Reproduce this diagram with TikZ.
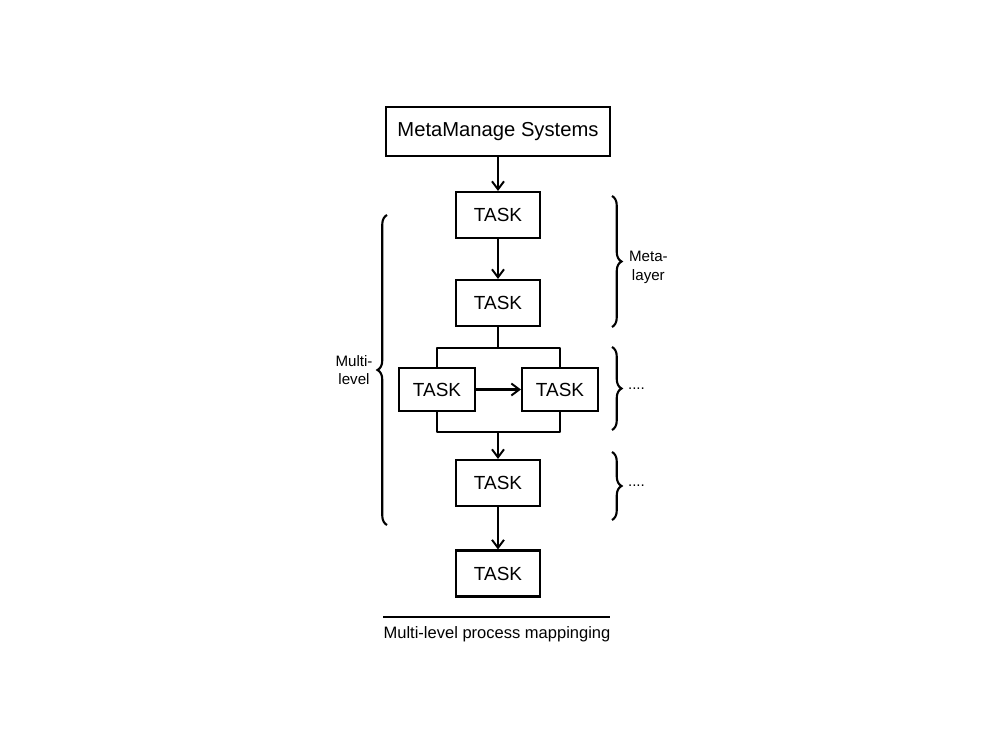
\documentclass[tikz,border=0pt]{standalone}
\usepackage{fontspec}
\setmainfont{Liberation Sans}
\usetikzlibrary{arrows.meta,decorations.pathreplacing}

\begin{document}
\begin{tikzpicture}[x=1cm,y=1cm]
\tikzset{
  taskbox/.style={rectangle,draw=black,line width=1.2pt,minimum width=1.68cm,minimum height=0.92cm,inner sep=0pt,font=\fontsize{10.8}{12}\selectfont},
  sidebox/.style={taskbox,minimum width=1.52cm,minimum height=0.86cm},
  flowline/.style={draw=black,line width=1.2pt,line join=round},
  flowarrow/.style={flowline,-{Straight Barb[length=1.6mm,width=2.4mm,line width=1.1pt]}},
  bracket/.style={draw=black,line width=1.2pt,decorate,decoration={brace,amplitude=0.19cm}},
  sidelabel/.style={inner sep=0pt,align=center,font=\fontsize{8.6}{10.5}\selectfont}
}
\fill[white] (0,0) rectangle (20,14.98);
\useasboundingbox (0,0) rectangle (20,14.98);
% boxes
\node[taskbox,minimum width=4.48cm,minimum height=0.98cm,font=\fontsize{11.5}{13}\selectfont] (sys) at (9.96,12.35) {MetaManage Systems};
\node[taskbox] (t_1) at (9.96,10.68) {TASK};
\node[taskbox] (t_2) at (9.96,8.92) {TASK};
\node[sidebox] (t_3a) at (8.74,7.19) {TASK};
\node[sidebox] (t_3b) at (11.2,7.19) {TASK};
\node[taskbox] (t_4) at (9.96,5.32) {TASK};
\node[taskbox] (t_5) at (9.96,3.51) {TASK};
\coordinate (fork) at (9.96,8.02);
\coordinate (join) at (9.96,6.34);
% connectors
\draw[flowarrow] (sys) -- (t_1);
\draw[flowarrow] (t_1) -- (t_2);
\draw[flowline] (t_2) -- (fork);
\draw[flowline] (t_3a.north) |- (fork) -| (t_3b.north);
\draw[flowarrow] (t_3a) -- (t_3b);
\draw[flowline] (t_3a.south) |- (join) -| (t_3b.south);
\draw[flowarrow] (join) -- (t_4);
\draw[flowarrow] (t_4) -- (t_5);
% braces
\coordinate (lb_lo) at (7.74,4.48);
\coordinate (lb_hi) at (7.74,10.68);
\draw[bracket] (lb_lo) -- (lb_hi) node[midway,left=0.27cm,sidelabel] (multi) {Multi-\\level};
\coordinate (rb1_hi) at (12.24,11.06);
\coordinate (rb1_lo) at (12.24,8.44);
\draw[bracket] (rb1_hi) -- (rb1_lo) node[midway,right=0.32cm,sidelabel,yshift=-0.12cm] (meta) {Meta-\\layer};
\coordinate (rb2_hi) at (12.24,8.04);
\coordinate (rb2_lo) at (12.24,6.38);
\draw[bracket] (rb2_hi) -- (rb2_lo) node[midway,right=0.3cm,sidelabel] (dots_a) {....};
\coordinate (rb3_hi) at (12.24,5.94);
\coordinate (rb3_lo) at (12.24,4.58);
\draw[bracket] (rb3_hi) -- (rb3_lo) node[midway,right=0.3cm,sidelabel] (dots_b) {....};
% caption
\coordinate (rule_l) at (7.66,2.64);
\coordinate (rule_r) at (12.2,2.64);
\draw[black,line width=1.2pt] (rule_l) -- (rule_r);
\node[inner sep=0pt,font=\fontsize{9.4}{11}\selectfont] (caption) at (9.94,2.30) {Multi-level process mappinging};
\end{tikzpicture}
\end{document}
